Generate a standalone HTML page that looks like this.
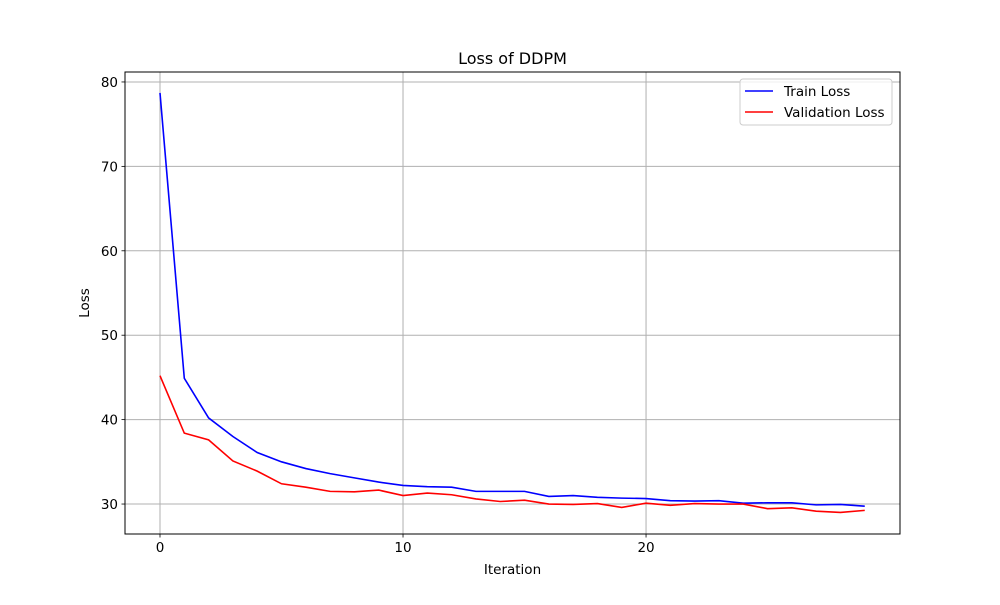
<!DOCTYPE html>
<html><head><meta charset="utf-8"><style>
body{margin:0;background:#fff;font-family:"Liberation Sans","DejaVu Sans",sans-serif}
svg text{font-family:"DejaVu Sans","Liberation Sans",sans-serif;fill:#000}
</style></head><body>
<svg id="chart" width="1000" height="600" xmlns="http://www.w3.org/2000/svg">
<rect width="1000" height="600" fill="#fff"/>
<g id="grid"></g><g id="axes"></g><g id="series"></g>
<text x="512.5" y="64" font-size="16" text-anchor="middle">Loss of DDPM</text>
<text x="512.5" y="574" font-size="13.5" text-anchor="middle">Iteration</text>
<text x="89" y="303" font-size="13.5" text-anchor="middle" transform="rotate(-90 89 303)">Loss</text>
<g>
<rect x="740" y="79" width="152" height="46" fill="#fff" fill-opacity="0.8" stroke="#ccc" rx="3"/>
<line x1="745" y1="91" x2="773" y2="91" stroke="#0000ff" stroke-width="1.5"/>
<text x="784" y="96" font-size="13.5">Train Loss</text>
<line x1="745" y1="112" x2="773" y2="112" stroke="#ff0000" stroke-width="1.5"/>
<text x="784" y="117" font-size="13.5">Validation Loss</text>
</g>
</svg>
<script>
const iterations=[0,1,2,3,4,5,6,7,8,9,10,11,12,13,14,15,16,17,18,19,20,21,22,23,24,25,26,27,28,29];
const trainLoss=[78.7,44.9,40.2,38.0,36.1,35.0,34.2,33.6,33.1,32.6,32.2,32.05,32.0,31.5,31.5,31.5,30.9,31.0,30.8,30.7,30.65,30.4,30.35,30.4,30.1,30.15,30.15,29.9,29.95,29.75];
const valLoss=[45.2,38.4,37.6,35.1,33.9,32.4,32.0,31.5,31.45,31.65,31.0,31.3,31.1,30.6,30.3,30.45,30.0,29.95,30.05,29.6,30.1,29.85,30.05,30.0,30.0,29.45,29.55,29.15,29.0,29.25];
const xTicks=[0,10,20];
const yTicks=[30,40,50,60,70,80];
const L=125,R=900,T=72,B=534;
const xMin=-1.44,xMax=30.45,yMin=26.45,yMax=81.18;
const xs=v=>L+(v-xMin)/(xMax-xMin)*(R-L);
const ys=v=>B-(v-yMin)/(yMax-yMin)*(B-T);
const NS="http://www.w3.org/2000/svg";
function mk(tag,attrs,parent){const e=document.createElementNS(NS,tag);for(const k in attrs)e.setAttribute(k,attrs[k]);parent.appendChild(e);return e;}
const grid=document.getElementById('grid'),axes=document.getElementById('axes'),series=document.getElementById('series');
xTicks.forEach(t=>{const x=xs(t);
 const g=mk('line',{x1:x,x2:x,y1:T,y2:B,stroke:'#b0b0b0','stroke-width':1},grid);
 
 
 mk('line',{x1:x,x2:x,y1:B,y2:B+3.5,stroke:'#000','stroke-width':0.8},axes);
 const tx=mk('text',{x:x,y:B+18,'font-size':13.5,'text-anchor':'middle'},axes);tx.textContent=t;
 
 
});
yTicks.forEach(t=>{const y=ys(t);
 const g=mk('line',{x1:L,x2:R,y1:y,y2:y,stroke:'#b0b0b0','stroke-width':1},grid);
 
 
 mk('line',{x1:L-3.5,x2:L,y1:y,y2:y,stroke:'#000','stroke-width':0.8},axes);
 const tx=mk('text',{x:L-7,y:y+5,'font-size':13.5,'text-anchor':'end'},axes);tx.textContent=t;
 
 
});
const frame=mk('rect',{x:L,y:T,width:R-L,height:B-T,fill:'none',stroke:'#000','stroke-width':1},axes);


function line(data,color,name){
 const p=mk('polyline',{points:data.map((v,i)=>xs(iterations[i])+','+ys(v)).join(' '),fill:'none',stroke:color,'stroke-width':1.6},series);
 
 
}
line(trainLoss,'#0000ff','train-loss-line');
line(valLoss,'#ff0000','validation-loss-line');
</script>
</body></html>
